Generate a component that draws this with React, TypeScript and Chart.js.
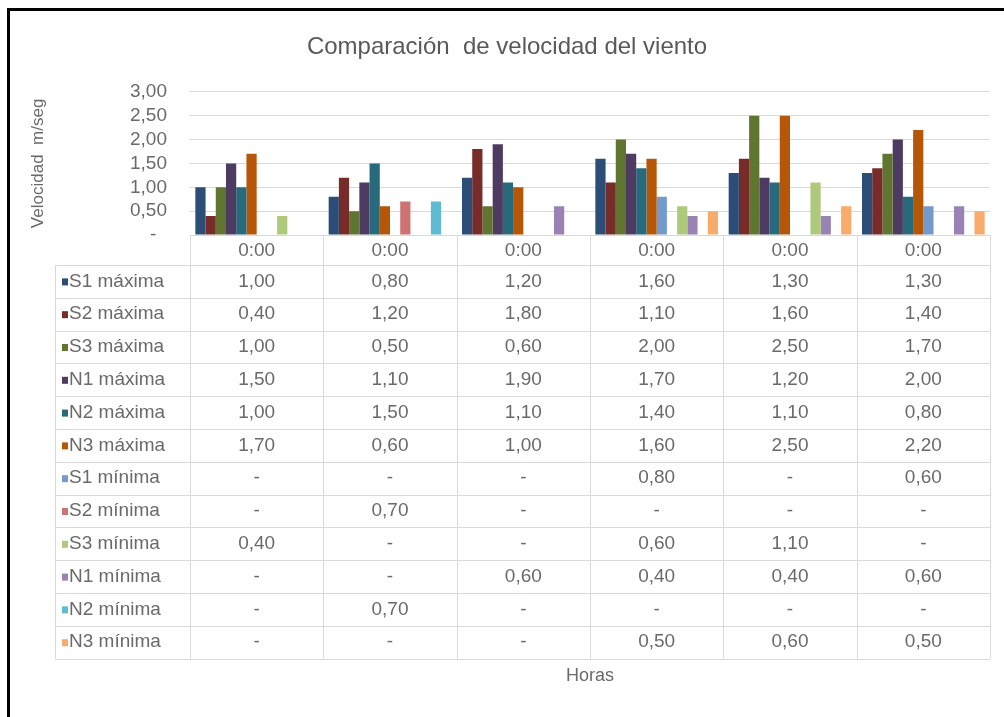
import React, { useEffect, useRef } from 'react';
import { Chart, registerables } from 'chart.js';

Chart.register(...registerables);

const FONT = '"Liberation Sans", Arial, sans-serif';

const categories = ['0:00', '0:00', '0:00', '0:00', '0:00', '0:00'];

const seriesNames = [
  'S1 máxima', 'S2 máxima', 'S3 máxima', 'N1 máxima', 'N2 máxima', 'N3 máxima',
  'S1 mínima', 'S2 mínima', 'S3 mínima', 'N1 mínima', 'N2 mínima', 'N3 mínima',
];

const s1Max = [1.0, 0.8, 1.2, 1.6, 1.3, 1.3];
const s2Max = [0.4, 1.2, 1.8, 1.1, 1.6, 1.4];
const s3Max = [1.0, 0.5, 0.6, 2.0, 2.5, 1.7];
const n1Max = [1.5, 1.1, 1.9, 1.7, 1.2, 2.0];
const n2Max = [1.0, 1.5, 1.1, 1.4, 1.1, 0.8];
const n3Max = [1.7, 0.6, 1.0, 1.6, 2.5, 2.2];
const s1Min = [null, null, null, 0.8, null, 0.6];
const s2Min = [null, 0.7, null, null, null, null];
const s3Min = [0.4, null, null, 0.6, 1.1, null];
const n1Min = [null, null, 0.6, 0.4, 0.4, 0.6];
const n2Min = [null, 0.7, null, null, null, null];
const n3Min = [null, null, null, 0.5, 0.6, 0.5];

const seriesValues = [s1Max, s2Max, s3Max, n1Max, n2Max, n3Max, s1Min, s2Min, s3Min, n1Min, n2Min, n3Min];

const seriesColors = [
  '#2C4D75', '#772C2A', '#5F7530', '#4D3B62', '#276A7C', '#B65708',
  '#729ACA', '#CD7371', '#AFC97A', '#9983B5', '#5FBBD3', '#F9AB6B',
];

const yTickValues = [0, 0.5, 1, 1.5, 2, 2.5, 3];

const fmt = (v: number | null) => (v === null || v === undefined ? '-' : v.toFixed(2).replace('.', ','));

const TEXT = '#6A6A6A';
const GRID = '#D9D9D9';

const tablePlugin = {
  id: 'dataTable',
  beforeDraw(chart: any) {
    const ctx = chart.ctx;
    ctx.save();
    ctx.fillStyle = '#ffffff';
    ctx.fillRect(0, 0, chart.width, chart.height);
    ctx.restore();
  },
  afterDraw(chart: any) {
    const ctx = chart.ctx;
    const xs = chart.scales.x;
    const area = chart.chartArea;
    const n = categories.length;
    const colW = (xs.right - xs.left) / n;
    const headTop = area.bottom;
    const headBottom = headTop + 30;
    const rowH = 32.8;
    const tableLeft = 55;
    const rows = seriesNames.length;
    const tableBottom = headBottom + rowH * rows;

    ctx.save();
    ctx.strokeStyle = GRID;
    ctx.lineWidth = 1;
    for (let i = 0; i <= n; i++) {
      const x = Math.round(xs.left + colW * i) + 0.5;
      ctx.beginPath();
      ctx.moveTo(x, headTop);
      ctx.lineTo(x, tableBottom);
      ctx.stroke();
    }
    ctx.beginPath();
    ctx.moveTo(tableLeft + 0.5, headBottom);
    ctx.lineTo(tableLeft + 0.5, tableBottom);
    ctx.stroke();
    for (let r = 0; r <= rows; r++) {
      const y = Math.round(headBottom + rowH * r) + 0.5;
      ctx.beginPath();
      ctx.moveTo(tableLeft, y);
      ctx.lineTo(xs.right, y);
      ctx.stroke();
    }

    ctx.font = `19px ${FONT}`;
    ctx.fillStyle = TEXT;
    ctx.textBaseline = 'middle';
    ctx.textAlign = 'center';
    for (let i = 0; i < n; i++) {
      const cx = xs.getPixelForValue(i);
      ctx.fillText(categories[i], cx, (headTop + headBottom) / 2 + 1);
    }
    for (let r = 0; r < rows; r++) {
      const cy = headBottom + rowH * r + rowH / 2;
      ctx.fillStyle = seriesColors[r];
      ctx.fillRect(tableLeft + 7, cy - 3, 6, 7);
      ctx.fillStyle = TEXT;
      ctx.textAlign = 'left';
      ctx.fillText(seriesNames[r], tableLeft + 14, cy);
      ctx.textAlign = 'center';
      for (let i = 0; i < n; i++) {
        const cx = xs.getPixelForValue(i);
        ctx.fillText(fmt(seriesValues[r][i]), cx, cy);
      }
    }

    ctx.fillStyle = '#000000';
    ctx.fillRect(7, 8, chart.width - 7, 3);
    ctx.fillRect(7, 8, 3, chart.height - 8);
    ctx.restore();
  },
};

export default function App() {
  const ref = useRef<HTMLCanvasElement | null>(null);

  useEffect(() => {
    if (!ref.current) return;
    const chart = new Chart(ref.current, {
      type: 'bar',
      data: {
        labels: categories,
        datasets: seriesNames.map((name, i) => ({
          label: name,
          data: seriesValues[i],
          backgroundColor: seriesColors[i],
          borderWidth: 0,
          categoryPercentage: 0.92,
          barPercentage: 1,
        })),
      },
      options: {
        responsive: false,
        animation: false,
        devicePixelRatio: 1,
        layout: { padding: { left: 24, right: 14, top: 0, bottom: 0 } },
        plugins: {
          legend: { display: false },
          tooltip: { enabled: false },
          title: {
            display: true,
            text: 'Comparación  de velocidad del viento',
            color: '#595959',
            font: { family: FONT, size: 24, weight: 'normal' },
            padding: { top: 33, bottom: 30 },
          },
        },
        scales: {
          x: {
            grid: { display: false },
            border: { display: true, color: GRID },
            ticks: { display: false },
            title: {
              display: true,
              text: 'Horas',
              color: TEXT,
              font: { family: FONT, size: 18 },
              padding: { top: 0, bottom: 30 },
            },
            afterFit: (s: any) => { s.height = 482; },
          },
          y: {
            min: 0,
            max: 3,
            afterBuildTicks: (s: any) => { s.ticks = yTickValues.map((v) => ({ value: v })); },
            ticks: {
              autoSkip: false,
              padding: 23,
              color: TEXT,
              font: { family: FONT, size: 19, lineHeight: 1 },
              callback: (v: any) => (Number(v) === 0 ? '-  ' : fmt(Number(v))),
            },
            grid: { color: GRID, drawTicks: false },
            border: { display: false },
            title: {
              display: true,
              text: 'Velocidad  m/seg',
              color: TEXT,
              font: { family: FONT, size: 17 },
              padding: { top: 4, bottom: 0 },
            },
            afterFit: (s: any) => { s.width = 166; },
          },
        },
      },
      plugins: [tablePlugin],
    });
    return () => chart.destroy();
  }, []);

  return (
    <div style={{ position: 'absolute', left: 0, top: 0, width: 1004, height: 717, background: '#fff' }}>
      <canvas ref={ref} width={1004} height={717} />
    </div>
  );
}
